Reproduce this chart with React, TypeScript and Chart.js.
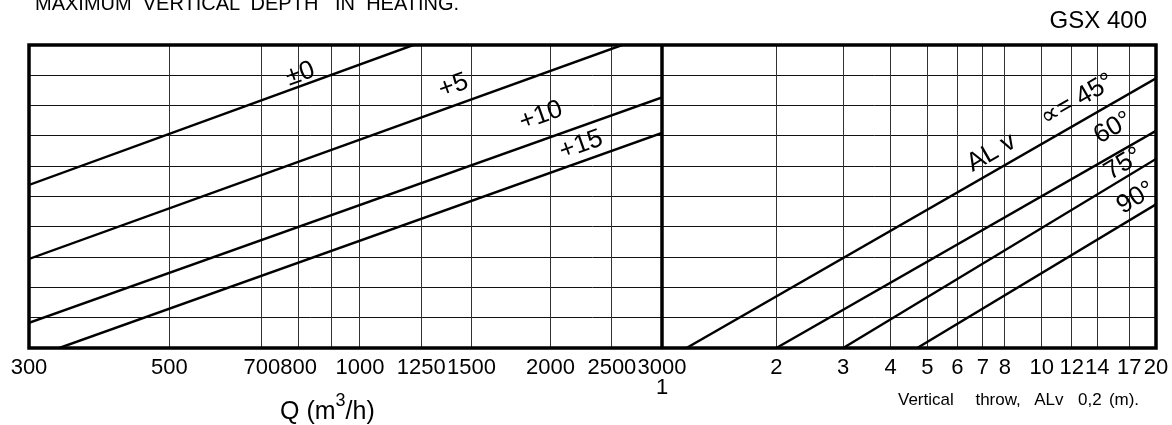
import React, { useEffect, useRef } from 'react';
import { Chart, registerables } from 'chart.js';

Chart.register(...registerables);

const FONT = '"Liberation Sans", Arial, "DejaVu Sans", sans-serif';

// ---- Axes / ticks ----
const Q_MIN = 300;
const Q_MAX = 3000;
const Q_GRID = [300, 500, 700, 800, 900, 1000, 1250, 1500, 2000, 2500, 3000];
const Q_LABELED = [300, 500, 700, 800, 1000, 1250, 1500, 2000, 2500, 3000];

const T_MIN = 1;
const T_MAX = 20;
const T_GRID = [1, 2, 3, 4, 5, 6, 7, 8, 10, 12, 14, 17, 20];
const T_SECOND_LINE = [1];

const Y_MIN = 0;
const Y_MAX = 10;
const Y_STEP = 1;

// ---- Left panel: temperature difference lines (Q vs depth grid units) ----
const TEMP_NAMES = ['±0', '+5', '+10', '+15'];
const TEMP_Q = [
  [300, 1214],
  [300, 2595],
  [300, 3000],
  [335, 3000],
];
const TEMP_DEPTH = [
  [5.38, 10],
  [2.94, 10],
  [0.83, 8.27],
  [0, 7.1],
];
const TEMP_LABEL_Q = [805, 1405, 1932, 2236];
const TEMP_LABEL_Y = [9.04, 8.65, 7.66, 6.7];

// ---- Right panel: discharge angle lines (vertical throw vs depth grid units) ----
const ANGLE_NAMES = ['45°', '60°', '75°', '90°'];
const ANGLE_THROW = [
  [1.16, 20],
  [2, 20],
  [3, 20],
  [4.7, 20],
];
const ANGLE_DEPTH = [
  [0, 8.9],
  [0, 7.17],
  [0, 6.24],
  [0, 4.74],
];
const ANGLE_LABELS = ['∝= 45°', '60°', '75°', '90°'];
const ANGLE_LABEL_T = [12.4, 15.4, 16.4, 17.7];
const ANGLE_LABEL_Y = [8.18, 7.26, 6.07, 4.95];
const ALV_LABEL = 'AL v';
const ALV_LABEL_T = 7.37;
const ALV_LABEL_Y = 6.44;

const decorPlugin = {
  id: 'decor',
  afterDatasetsDraw(chart: any) {
    const { ctx, chartArea: a, scales } = chart;
    ctx.save();
    ctx.strokeStyle = '#000';
    ctx.lineWidth = 3.5;
    ctx.strokeRect(a.left, a.top, a.right - a.left, a.bottom - a.top);
    const xd = scales.xt.left;
    ctx.beginPath();
    ctx.moveTo(xd, a.top);
    ctx.lineTo(xd, a.bottom);
    ctx.stroke();

    ctx.fillStyle = '#000';
    ctx.font = `26px ${FONT}`;
    ctx.textAlign = 'center';
    ctx.textBaseline = 'middle';
    const draw = (text: string, scaleId: string, xv: number, yv: number, dsIndex: number) => {
      const meta = chart.getDatasetMeta(dsIndex);
      const p0 = meta.data[0];
      const p1 = meta.data[meta.data.length - 1];
      const ang = Math.atan2(p1.y - p0.y, p1.x - p0.x);
      const px = scales[scaleId].getPixelForValue(xv);
      const py = scales.y.getPixelForValue(yv);
      ctx.save();
      ctx.translate(px, py);
      ctx.rotate(ang);
      ctx.fillText(text, 0, 0);
      ctx.restore();
    };
    TEMP_NAMES.forEach((n, i) => draw(n, 'xq', TEMP_LABEL_Q[i], TEMP_LABEL_Y[i], i));
    ANGLE_LABELS.forEach((n, i) =>
      draw(n, 'xt', ANGLE_LABEL_T[i], ANGLE_LABEL_Y[i], TEMP_NAMES.length + i)
    );
    draw(ALV_LABEL, 'xt', ALV_LABEL_T, ALV_LABEL_Y, TEMP_NAMES.length);
    ctx.restore();
  },
};

const zeroPad = (s: any) => {
  s.paddingLeft = 0;
  s.paddingRight = 0;
  s.paddingTop = 0;
  s.paddingBottom = 0;
};

export default function App() {
  const ref = useRef<HTMLCanvasElement | null>(null);

  useEffect(() => {
    if (!ref.current) return;
    const lineStyle = {
      borderColor: '#000',
      borderWidth: 2.4,
      pointRadius: 0,
      pointHoverRadius: 0,
      tension: 0,
      fill: false,
    };
    const datasets: any[] = [];
    TEMP_NAMES.forEach((name, i) => {
      datasets.push({
        label: name,
        xAxisID: 'xq',
        yAxisID: 'y',
        data: TEMP_Q[i].map((q, j) => ({ x: q, y: TEMP_DEPTH[i][j] })),
        ...lineStyle,
      });
    });
    ANGLE_NAMES.forEach((name, i) => {
      datasets.push({
        label: name,
        xAxisID: 'xt',
        yAxisID: 'y',
        data: ANGLE_THROW[i].map((t, j) => ({ x: t, y: ANGLE_DEPTH[i][j] })),
        ...lineStyle,
      });
    });

    const tickFont = { family: FONT, size: 22, lineHeight: '20px' };

    const chart = new Chart(ref.current, {
      type: 'line',
      data: { datasets },
      options: {
        animation: false,
        responsive: false,
        events: [],
        layout: { padding: { left: 29, right: 16, top: 45, bottom: 0 } },
        plugins: {
          legend: { display: false },
          tooltip: { enabled: false },
          title: { display: false },
        },
        scales: {
          y: {
            type: 'linear',
            position: 'left',
            min: Y_MIN,
            max: Y_MAX,
            ticks: { display: false, stepSize: Y_STEP },
            grid: { color: '#111', lineWidth: 1, drawTicks: false },
            border: { display: false },
            afterFit: (s: any) => {
              s.width = 0;
              zeroPad(s);
            },
          },
          xq: {
            type: 'logarithmic',
            position: 'bottom',
            stack: 'panels',
            stackWeight: 633,
            min: Q_MIN,
            max: Q_MAX,
            afterBuildTicks: (s: any) => {
              s.ticks = Q_GRID.map((v) => ({ value: v }));
            },
            ticks: {
              autoSkip: false,
              maxRotation: 0,
              minRotation: 0,
              padding: 10,
              color: '#000',
              font: tickFont,
              callback: (v: any) => (Q_LABELED.includes(Number(v)) ? String(v) : ''),
            },
            grid: { color: '#333', lineWidth: 1, drawTicks: false },
            border: { display: false },
            afterFit: (s: any) => {
              s.height = 77;
              zeroPad(s);
            },
          },
          xt: {
            type: 'logarithmic',
            position: 'bottom',
            stack: 'panels',
            stackWeight: 494,
            min: T_MIN,
            max: T_MAX,
            afterBuildTicks: (s: any) => {
              s.ticks = T_GRID.map((v) => ({ value: v }));
            },
            ticks: {
              autoSkip: false,
              maxRotation: 0,
              minRotation: 0,
              padding: 10,
              color: '#000',
              font: tickFont,
              callback: (v: any) =>
                T_SECOND_LINE.includes(Number(v)) ? ['', String(v)] : String(v),
            },
            grid: { color: '#333', lineWidth: 1, drawTicks: false },
            border: { display: false },
            afterFit: (s: any) => {
              s.height = 77;
              zeroPad(s);
            },
          },
        } as any,
      },
      plugins: [decorPlugin],
    } as any);
    return () => chart.destroy();
  }, []);

  const text = (extra: React.CSSProperties): React.CSSProperties => ({
    position: 'absolute',
    fontFamily: FONT,
    color: '#000',
    whiteSpace: 'pre',
    ...extra,
  });

  return (
    <div
      style={{
        position: 'absolute',
        left: 0,
        top: 0,
        width: 1172,
        height: 425,
        overflow: 'hidden',
        background: '#fff',
      }}
    >
      <canvas ref={ref} width={1172} height={425} style={{ display: 'block' }} />
      <div style={text({ left: 35, top: -7, fontSize: 20, lineHeight: '20px' })}>
        {'MAXIMUM  VERTICAL  DEPTH   IN  HEATING.'}
      </div>
      <div
        style={text({
          right: 25,
          top: 7.7,
          fontSize: 24,
          lineHeight: '24px',
        })}
      >
        GSX 400
      </div>
      <div style={text({ left: 280, top: 397.8, fontSize: 25, lineHeight: '25px' })}>
        Q (m
        <span
          style={{
            fontSize: 18,
            position: 'relative',
            top: -13,
            lineHeight: 0,
          }}
        >
          3
        </span>
        /h)
      </div>
      <div
        style={text({
          left: 898,
          top: 390.6,
          fontSize: 17,
          lineHeight: '17px',
          wordSpacing: '2.5px',
        })}
      >
        {'Vertical   throw,  ALv  0,2 (m).'}
      </div>
    </div>
  );
}
